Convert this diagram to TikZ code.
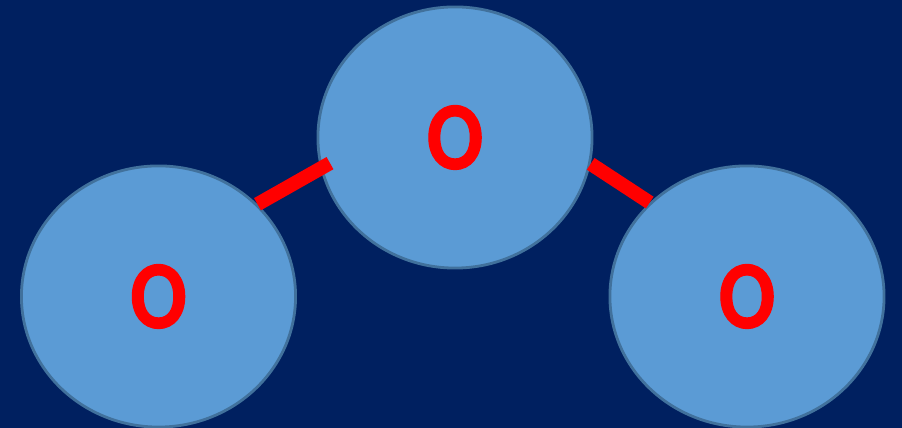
\documentclass[tikz,border=0pt]{standalone}
\usepackage{fontspec}
\setmainfont{Carlito}[BoldFeatures={FakeStretch=0.86,FakeBold=1.2}]
\usetikzlibrary{shapes.geometric}
\definecolor{bgblue}{HTML}{002060}
\definecolor{atomfill}{HTML}{5B9BD5}
\definecolor{atomline}{HTML}{41719C}
\tikzset{
  atom/.style={ellipse,draw=atomline,line width=0.8pt,fill=atomfill,
    minimum width=2.74cm,minimum height=2.61cm,inner sep=0pt,
    text=red,font=\bfseries\fontsize{27.5}{27.5}\selectfont},
  bond/.style={red,line width=0.14cm}
}
\begin{document}
\begin{tikzpicture}[x=0.01cm,y=-0.01cm]
   \fill[bgblue] (0,0) rectangle (902,428);
   \useasboundingbox (0,0) rectangle (902,428);

   \node[atom] (T) at (455,137.5) {O};
   \node[atom] (L) at (158.5,296.5) {O};
   \node[atom] (R) at (747,296.5) {O};

   % bonds
   \draw[bond,shorten >=-0.11cm] (L.43) -- (T.193);
   \draw[bond] (T.-11.5) -- (R.136.8);
\end{tikzpicture}
\end{document}
